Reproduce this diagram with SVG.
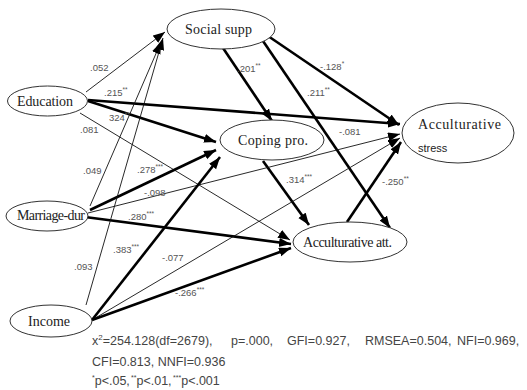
<svg xmlns="http://www.w3.org/2000/svg" width="527" height="390" viewBox="0 0 527 390">
<style>
.node ellipse{fill:#fff;stroke:#333;stroke-width:1}
.nl{font-family:"Liberation Serif","Times New Roman",serif;font-size:14px;fill:#222}
.thin{stroke:#111;stroke-width:0.9;fill:none}
.thick{stroke:#000;stroke-width:2.6;fill:none}
.lbl{font-family:"Liberation Sans",Arial,sans-serif;font-size:9.5px;fill:#555}
.sup{font-size:6.5px}
.foot{font-family:"Liberation Sans",Arial,sans-serif;font-size:12.5px;fill:#444}
</style>
<defs>
<marker id="ah" markerUnits="userSpaceOnUse" markerWidth="13" markerHeight="10" refX="12" refY="4.5" orient="auto">
<path d="M0,0 L12,4.5 L0,9 z" fill="#000"/>
</marker>
</defs>
<rect width="527" height="390" fill="#fff"/>
<g id="connectors">
<line class="thin" x1="86" y1="92" x2="165" y2="32" marker-end="url(#ah)"/>
<line class="thick" x1="88" y1="100" x2="400" y2="124" marker-end="url(#ah)"/>
<line class="thick" x1="88" y1="101" x2="216" y2="142" marker-end="url(#ah)"/>
<line class="thin" x1="80" y1="113" x2="290" y2="240" marker-end="url(#ah)"/>
<line class="thick" x1="223" y1="48" x2="272" y2="121" marker-end="url(#ah)"/>
<line class="thick" x1="268" y1="36" x2="399" y2="125" marker-end="url(#ah)"/>
<line class="thick" x1="263" y1="41" x2="390" y2="228" marker-end="url(#ah)"/>
<line class="thick" x1="263" y1="161" x2="309" y2="225" marker-end="url(#ah)"/>
<line class="thick" x1="347" y1="222" x2="401" y2="142" marker-end="url(#ah)"/>
<line class="thin" x1="90" y1="206" x2="161" y2="42" marker-end="url(#ah)"/>
<line class="thick" x1="90" y1="210" x2="216" y2="150" marker-end="url(#ah)"/>
<line class="thin" x1="88" y1="213" x2="400" y2="134" marker-end="url(#ah)"/>
<line class="thick" x1="85" y1="217" x2="291" y2="244" marker-end="url(#ah)"/>
<line class="thin" x1="86" y1="305" x2="163" y2="38" marker-end="url(#ah)"/>
<line class="thick" x1="92" y1="320" x2="220" y2="157" marker-end="url(#ah)"/>
<line class="thin" x1="92" y1="320" x2="400" y2="138" marker-end="url(#ah)"/>
<line class="thick" x1="92" y1="320" x2="291" y2="248" marker-end="url(#ah)"/>
</g>
<g id="social-supp" class="node">
<ellipse cx="221" cy="29" rx="54" ry="20"/>
<text class="nl" x="185" y="34" textLength="67">Social supp</text>
</g>
<g id="education" class="node">
<ellipse cx="47.5" cy="101" rx="40" ry="15"/>
<text class="nl" x="17" y="106" textLength="56">Education</text>
</g>
<g id="coping" class="node">
<ellipse cx="272" cy="140" rx="52" ry="20"/>
<text class="nl" x="238" y="145" textLength="70">Coping pro.</text>
</g>
<g id="acc-stress" class="node">
<ellipse cx="458" cy="133" rx="56" ry="30"/>
<text class="nl" x="418" y="129" textLength="83">Acculturative</text>
<text x="418" y="152" style="font-family:'Liberation Sans',Arial,sans-serif;font-size:11px;fill:#222">stress</text>
</g>
<g id="marriage-dur" class="node">
<ellipse cx="47" cy="216" rx="41" ry="15"/>
<text class="nl" x="17" y="220" textLength="68">Marriage-dur</text>
</g>
<g id="acc-att" class="node">
<ellipse cx="350" cy="242" rx="57" ry="20"/>
<text class="nl" x="303" y="247" textLength="89">Acculturative att.</text>
</g>
<g id="income" class="node">
<ellipse cx="51" cy="321" rx="41" ry="16"/>
<text class="nl" x="28" y="326" textLength="42">Income</text>
</g>
<g id="labels">
<text class="lbl" x="90" y="71">.052</text>
<text class="lbl" x="104" y="96">.215<tspan class="sup" dy="-4">**</tspan></text>
<text class="lbl" x="109" y="121">324<tspan class="sup" dy="-4">**</tspan></text>
<text class="lbl" x="80" y="133">.081</text>
<text class="lbl" x="83" y="174">.049</text>
<text class="lbl" x="137" y="173">.278<tspan class="sup" dy="-4">***</tspan></text>
<text class="lbl" x="144" y="196">-.098</text>
<text class="lbl" x="128" y="220">.280<tspan class="sup" dy="-4">***</tspan></text>
<text class="lbl" x="113" y="253">.383<tspan class="sup" dy="-4">***</tspan></text>
<text class="lbl" x="74" y="270">.093</text>
<text class="lbl" x="162" y="261">-.077</text>
<text class="lbl" x="175" y="296">-.266<tspan class="sup" dy="-4">***</tspan></text>
<text class="lbl" x="237" y="72">.201<tspan class="sup" dy="-4">**</tspan></text>
<text class="lbl" x="320" y="70">-.128<tspan class="sup" dy="-4">*</tspan></text>
<text class="lbl" x="307" y="96">.211<tspan class="sup" dy="-4">**</tspan></text>
<text class="lbl" x="339" y="135">-.081</text>
<text class="lbl" x="286" y="183">.314<tspan class="sup" dy="-4">***</tspan></text>
<text class="lbl" x="382" y="185">-.250<tspan class="sup" dy="-4">**</tspan></text>
</g>
<g id="footnote">
<text class="foot" y="345"><tspan x="92">x<tspan style="font-size:8px" dy="-5">2</tspan><tspan dy="5">=254.128(df=2679),</tspan></tspan><tspan x="231">p=.000,</tspan><tspan x="287">GFI=0.927,</tspan><tspan x="365">RMSEA=0.504,</tspan><tspan x="457">NFI=0.969,</tspan></text>
<text class="foot" x="92" y="366">CFI=0.813,  NNFI=0.936</text>
<text class="foot" y="385"><tspan x="92" style="font-size:7px" dy="-5">*</tspan><tspan dy="5">p&lt;.05,</tspan><tspan x="131" style="font-size:7px" dy="-5">**</tspan><tspan dy="5">p&lt;.01,</tspan><tspan x="173" style="font-size:7px" dy="-5">***</tspan><tspan dy="5">p&lt;.001</tspan></text>
</g>
</svg>
